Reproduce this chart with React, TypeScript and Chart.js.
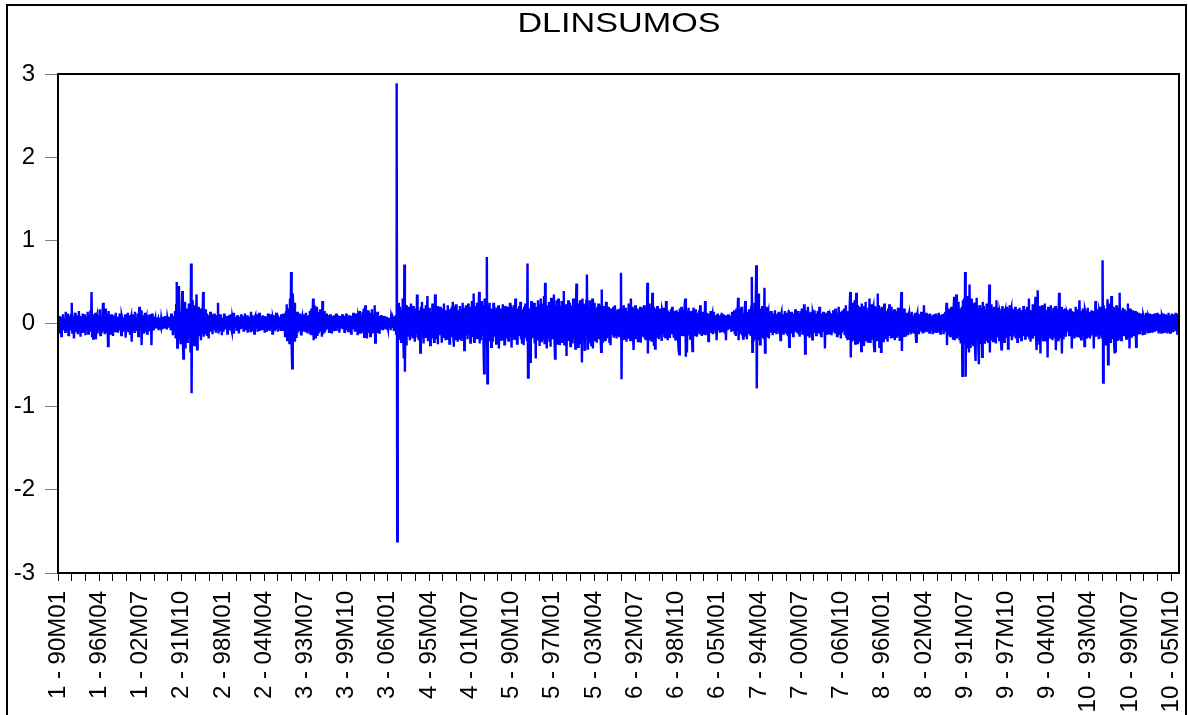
import React, { useEffect, useRef } from "react";
import { Chart, registerables } from "chart.js";

Chart.register(...registerables);

// DLINSUMOS, 10 cross-sections x 204 months (90M01..06M12), values in hundredths
const S1 = [
  4, -6, 9, -12, 3, 8, -15, 6, -3, 11, -8, 2,
  7, -10, 14, -5, -9, 6, 12, -14, 3, 5, -7, 10,
  -4, 25, -11, 2, 8, -18, 6, 13, -6, -9, 4, 10,
  -13, 7, 15, -8, 3, -16, 9, 5, -10, 12, -4, 6,
  -9, 11, -14, 4, 8, -5, 14, -12, 2, 9, -7, 16,
  -10, 38, -15, 7, -18, 11, 5, -8, 13, -19, 6, 9,
  -12, 4, 10, -6, 17, -14, 3, 8, -11, 14, 25, -9,
  6, -13, 18, 4, -10, 12, 7, -27, 15, -5, 9, -12,
  3, 11, -8, 6, -15, 10, -4, 7, -9, 13, -6, 2,
  8, -11, 5, -3, 12, -7, 4, -14, 9, 6, -10, 3,
  7, -5, 11, -17, 4, 9, -6, 13, -9, 2, 10, -12,
  5, 8, -22, 6, 11, -7, 3, -10, 14, -4, 7, -9,
  4, 12, -15, 6, 20, -8, 9, 16, -26, 5, 10, -11,
  8, -6, 13, -9, 4, 7, -12, 10, -3, 6, -8, 11,
  -5, 9, -26, 12, 4, -7, 8, -5, 3, 6, -4, 7,
  -6, 3, 5, -8, 4, 7, -3, -5, 6, 2, -7, 8,
  -4, 5, -6, 9, -3, 4, -7, 6, 2, -5, 8, -3,
];
const S2 = [
  5, -8, 12, -6, 9, -14, 7, 3, -10, 15, -18, 22,
  50, -29, 18, -12, 45, -20, 10, -25, 14, 8, 39, -15,
  -42, 20, -8, 26, -30, 12, 18, -22, 9, -16, 24, -10,
  15, -35, 72, -84, 28, -18, 10, 22, -26, 14, -12, 8,
  35, -31, 16, -9, 20, -14, 11, 18, -20, 7, -11, 13,
  38, -16, 9, -13, 17, -8, 12, -15, 6, 10, -18, 9,
  -6, 14, -10, 7, 11, -13, 5, -8, 12, -6, 9, -11,
  4, 10, -7, 25, -12, 8, -5, 11, -9, 6, -14, 7,
  3, -10, 12, -5, 8, -7, 4, 9, -12, 6, -3, 10,
  -8, 5, 11, -6, -9, 7, 3, -11, 13, -5, 8, -4,
  6, -9, 10, -3, 5, -12, 8, 4, -7, 11, -6, 2,
  9, -5, -10, 7, 12, -8, 4, -6, 10, -11, 5, 8,
  -4, 6, -9, 14, -7, 3, 10, -8, 5, -12, 7, 9,
  -6, 4, 11, -10, 6, -5, 13, -9, 8, -4, 7, -8,
  10, -6, 5, 9, -11, 7, -3, 8, -10, 6, 12, -7,
  4, -9, 7, 11, -5, 8, -12, 6, 3, -8, 10, -6,
  5, 13, -7, 9, -10, 6, 4, -5, 8, -9, 11, -6,
];
const S3 = [
  6, -9, 12, -7, 10, -15, 8, 14, 23, -20, 16, -12,
  18, -25, 30, -14, 62, -28, -54, 36, 20, -18, 25, -22,
  12, -16, 9, 14, -11, 7, -9, 12, -6, 10, -13, 5,
  8, -10, 6, 11, -7, 4, -9, 13, -5, 9, -12, 7,
  10, -8, 15, -12, 6, 18, -14, 9, 30, -20, 22, -11,
  16, -18, 12, 20, -15, 8, -12, 14, -9, 17, -10, 11,
  -16, 27, -13, 9, 15, -11, 6, -8, 12, -7, 10, -5,
  8, -10, 4, 11, -6, 9, -12, 7, 3, -8, 10, -4,
  6, -9, 12, -5, 7, 10, -8, 4, -11, 9, -6, 8,
  -3, 11, -7, 5, 9, -10, 6, -4, 12, -8, 3, 7,
  -9, 5, 10, -6, 8, -12, 4, 9, -7, 13, -5, 6,
  -10, 7, 12, -8, 5, -14, 9, 6, -11, 15, -7, 10,
  -12, 8, 14, -9, 18, -16, 10, 22, -13, 12, -18, 9,
  16, -11, 7, 13, -15, 10, -8, 17, -12, 6, 11, -9,
  22, -23, 12, -10, 8, 14, -7, 5, -11, 9, -6, 4,
  10, -5, 7, -8, 3, 9, -4, 6, -7, 5, 8, -3,
  -6, 4, 7, -5, 3, -8, 6, 2, -4, 7, 5, -9,
];
const S4 = [
  8, -6, 10, -12, 289, -262, 12, -18, 25, -14, 20, 9,
  -22, 16, -10, 30, -15, -42, 71, -58, 18, -25, 22, 12,
  -16, 20, -12, 15, -20, 9, 24, -14, 11, -18, 21, -9,
  14, -22, 10, 18, -13, 35, -17, 12, -20, 16, 8, -35,
  20, -15, 26, -10, 13, -24, 18, 9, -16, 22, -12, 15,
  33, -20, 11, -14, 19, -26, 14, 10, -18, 24, -11, 16,
  -22, 12, 35, -19, 15, -12, 21, -25, 9, 17, -14, 20,
  -10, 13, -23, 18, 11, -16, 24, -13, 8, -20, 16, 12,
  -18, 22, -9, 14, -24, 17, 10, -15, 20, -12, 26, -17,
  -28, 15, 12, -20, 23, -10, 16, -22, 14, 9, -18, 21,
  -13, 17, -21, 11, 25, -16, 13, -32, 19, -11, 22, -14,
  10, -19, 24, -12, 16, 20, -23, 13, -15, 27, -10, 18,
  36, -22, 14, -17, 21, -12, 25, -19, 11, 16, 38, -24,
  12, -20, 27, -14, 18, 22, -26, -60, 30, -15, 20, -25,
  80, -72, 22, -18, 15, 25, -20, 12, -28, 18, 14, -22,
  25, -16, 20, -13, 17, -24, 11, 19, -15, 22, -30, 14,
  18, -21, 12, 16, -19, 23, -14, 10, -25, 17, 21, -12,
];
const S5 = [
  -14, 20, -10, 18, -22, 12, 25, -16, 9, -29, 14, 11,
  -18, 22, -12, 16, 30, -20, 13, -24, 10, 18, -15, 21,
  -11, 26, -19, 14, -23, 12, 17, -26, 20, -13, 24, -17,
  15, -21, 72, -65, 18, -20, 14, -46, 12, 27, -18, 22,
  -15, 19, 25, -24, 16, -42, 20, 13, -19, 28, -14, 23,
  -27, 17, 30, -21, 12, -18, 24, -13, 33, -25, 49, -20,
  15, -30, 22, 18, -16, 26, -22, 14, -28, 31, -15, 20,
  -19, 25, 35, -17, -42, 22, -14, 28, -24, 16, 30, -20,
  18, -26, 21, -13, 27, -22, 15, 19, 39, -25, 17, -18,
  23, -39, 20, -15, 28, -21, 14, 25, -27, 18, -16, 22,
  -24, 30, -18, 15, 26, -30, 19, 48, -22, 16, -28, 24,
  -17, 21, 28, -25, 14, -47, 30, -20, 24, 18, -33, 22,
  -15, 27, 59, -30, 20, -24, 16, 28, -21, 13, -26, 19,
  30, -30, 22, -17, 25, -20, 14, 18, -23, 20, -15, 24,
  -19, 16, 22, -18, -34, 41, -22, 17, -14, 21, 12, -20,
  15, 26, -18, 13, -16, 20, 11, -22, 14, -26, 18, -12,
  16, -14, 20, -17, 12, 22, -15, 10, -18, 14, 17, -13,
];
const S6 = [
  12, -15, 18, -10, 61, -67, 14, -20, 16, 22, -18, 11,
  -14, 19, -22, 15, 10, -17, 24, -12, 18, -20, 30, -15,
  13, 20, -16, -32, 17, -11, 22, -19, 14, -13, 18, -21,
  11, 16, -14, 20, -23, 12, -10, 19, -16, 14, 22, -18,
  13, -20, 17, -12, 49, -36, 20, -15, 24, -19, 13, 18,
  -22, 37, -16, 20, -27, 14, -30, 18, 11, -17, 21, -13,
  15, -19, 12, 18, -14, 10, -21, 16, 13, -11, 19, -15,
  11, -18, 27, -12, 16, -20, 9, 14, -16, 12, -10, 17,
  -13, 20, -11, 15, -17, 8, 13, -19, 10, 16, -12, 14,
  -20, -33, -37, 18, 12, -15, 20, -11, 16, -14, 9, 15,
  24, 30, -40, 12, -35, 16, -13, 19, -10, 14, -18, 11,
  15, -12, -33, 10, 19, -14, 8, 17, -11, 13, -16, 9,
  12, -10, 16, -13, 22, -8, 11, -15, 9, 14, -12, 10,
  -9, 27, -14, 8, 13, -11, 10, -21, 7, 12, -9, 15,
  -10, 8, 11, -13, 6, 14, -8, 10, -12, 7, -20, 9,
  12, -7, 5, 10, -11, 8, -6, 13, -9, 6, 11, -8,
  9, -12, 7, -20, 10, 5, -8, 11, -7, 9, -6, 8,
];
const S7 = [
  8, -10, 14, -7, 12, -9, 16, -13, 10, -15, 18, -8,
  11, 31, -20, 14, -12, 17, -9, 20, -14, 11, -18, 13,
  -10, 15, 27, -16, 12, -19, 9, 14, -13, 17, -11, 10,
  -15, 20, 56, -34, 18, -22, 14, 25, -18, 12, 70, -78,
  22, -16, 36, -20, 15, -25, 12, 18, -14, 21, -17, 13,
  -19, 43, -35, 16, -12, 20, -15, 11, 14, -18, 9, 13,
  -11, 15, -9, 12, -14, 8, 11, -10, 16, -7, 10, -13,
  9, 12, -8, 14, -11, 7, -20, 10, 13, -9, 6, -12,
  11, -8, 15, -10, 7, 13, -12, 9, -14, 16, -28, 10,
  8, -12, 14, -9, 11, -15, 7, 12, -10, 17, -8, 13,
  -11, 9, 15, -13, 10, -16, 12, -8, 14, 18, -12, 10,
  -9, 23, 13, -36, 16, -11, 9, -14, 20, -10, 12, -17,
  11, 14, -12, 8, -19, 13, 10, -11, 16, -9, 7, -14,
  12, -10, 15, -8, 9, 20, -13, 11, -15, 8, 12, -10,
  14, -9, 11, -30, 13, -8, 10, -12, 7, 15, -11, 9,
  -13, 10, 8, -14, 12, -7, 16, -10, 9, -12, 18, -8,
  11, -15, 13, -9, 20, -12, 8, 14, -18, 10, -11, 16,
];
const S8 = [
  12, -9, 18, -14, 10, 22, -16, 13, -20, 15, 11, -18,
  20, 38, -41, 16, -22, 25, -15, 12, -19, 28, -24, 14,
  37, -18, 22, -25, 15, -12, 20, -21, 17, -33, 24, -16,
  13, 21, -27, 18, -14, 26, -20, 15, 11, -23, 19, -17,
  30, -22, 14, -18, 23, -12, 17, 20, -25, -33, 21, -15,
  12, 19, -20, 36, -16, 22, -28, 14, 18, -34, 20, -13,
  16, -21, 12, 24, -17, 13, -19, 15, 11, -22, 18, -14,
  23, -15, 12, -18, 20, -11, 14, -16, 10, 17, -20, 13,
  -12, 15, -17, 11, 19, -14, 9, -21, 13, 16, 38, -33,
  14, -15, 10, 18, -12, 8, -16, 13, -10, 11, -14, 9,
  12, -10, 7, -13, 11, 14, -9, 8, -12, 10, -7, 13,
  -11, -22, 9, 12, -8, 10, -13, 7, 11, -9, 14, -10,
  8, -12, 10, 22, -11, 9, -7, 13, -10, 6, 11, -9,
  7, -11, 12, -8, 10, -6, 9, -13, 8, 11, -9, 6,
  -10, 12, -7, 9, -11, 8, 13, -9, 6, -12, 10, -8,
  11, -7, 9, -13, 12, -10, 14, -8, 25, -26, 15, -11,
  18, -13, 10, -15, 12, 20, -16, 9, -18, 14, 32, -20,
];
const S9 = [
  14, -12, 35, -18, 22, -15, 26, -10, -20, 18, -24, 16,
  20, -63, 28, -22, 30, -25, 62, -64, 24, -30, 33, -20,
  18, -35, 47, -28, 22, -18, 30, -24, 15, -26, 20, 25,
  -30, -45, 24, 31, -20, 18, -28, -49, 22, 16, -25, 19,
  14, -40, 26, -18, 21, -23, 17, 12, -20, 24, -15, 20,
  -22, 15, 47, -35, 18, -14, 23, -19, 12, -21, 16, 20,
  -17, 13, -24, 28, -15, 19, -12, 17, -20, 14, 11, -18,
  -31, 16, 21, -13, 18, -22, 12, 15, -17, 20, -11, 14,
  -30, 18, -14, 22, -12, 16, 19, -20, 13, -16, 11, 17,
  -14, 20, -18, 12, 15, -22, 17, -13, 10, 19, -16, 14,
  -20, 12, 16, -15, 21, -11, 14, -18, 9, 17, -13, 20,
  -16, 11, 30, -19, 14, -22, 16, 12, -17, 23, -14, 18,
  -12, 20, 32, -18, -32, 15, 40, -20, 16, -24, 21, -36,
  18, -15, 22, 12, -20, 17, -14, 24, -19, 13, -22, 16,
  -41, 20, -15, 18, 11, -17, 22, -13, 15, -20, 12, 19,
  -16, 14, 21, -32, 16, -12, 18, -20, 13, 37, -18, 15,
  -14, 20, -36, 17, 12, -19, 15, -11, 18, -16, 10, 14,
];
const S10 = [
  12, -10, 16, -14, 9, 18, -12, 15, -30, 13, -16, 11,
  14, -18, 10, 20, -13, 12, -15, 17, -11, 14, 28, -16,
  12, -19, 15, -10, 18, -14, 11, -27, 16, 13, -17, 12,
  -11, 19, -15, 10, 14, -18, 12, -9, 16, -13, 11, 15,
  -30, 13, -12, 27, -16, 11, 17, -14, 10, -19, 15, 12,
  -13, 20, -18, 14, 76, -71, 22, -17, 15, -25, 18, 12,
  -20, 29, -49, 24, -18, 21, -22, 15, 33, -19, 17, -14,
  20, -24, -36, 18, -35, 22, -15, 19, -21, 14, 16, 37,
  -18, 13, -20, 16, -12, 19, -15, 11, 17, -14, 12, -18,
  15, -10, 24, -16, 13, -30, 18, -12, 14, -17, 11, 16,
  -14, 12, -10, 15, 11, -28, 14, -12, 9, 13, -11, 10,
  -13, 8, 12, -9, 11, -14, 10, 7, -12, 9, -10, 13,
  -8, 11, -12, 9, 7, -10, 12, -9, 10, -7, 11, -11,
  9, -8, 12, -10, 7, 11, -9, 13, -7, 10, -12, 8,
  11, -9, 6, -11, 10, 8, -7, 12, -10, 9, -8, 11,
  -7, 10, -12, 8, 13, -9, 7, -11, 10, -6, 12, -9,
  8, -10, 11, -7, 9, 13, -8, 10, -12, 7, 12, -6,
];

const SECTIONS = [S1, S2, S3, S4, S5, S6, S7, S8, S9, S10];

// Labelled observations (index -> label)
const TICK_INDEX = [
  0, 75, 150, 225, 300, 375, 450, 525, 600, 675, 750, 825, 900, 975,
  1050, 1125, 1200, 1275, 1350, 1425, 1500, 1575, 1650, 1725, 1800, 1875, 1950, 2025,
];
const TICK_LABELS = [
  "1 - 90M01", "1 - 96M04", "1 - 02M07", "2 - 91M10", "2 - 98M01", "2 - 04M04",
  "3 - 93M07", "3 - 99M10", "3 - 06M01", "4 - 95M04", "4 - 01M07", "5 - 90M10",
  "5 - 97M01", "5 - 03M04", "6 - 92M07", "6 - 98M10", "6 - 05M01", "7 - 94M04",
  "7 - 00M07", "7 - 06M10", "8 - 96M01", "8 - 02M04", "9 - 91M07", "9 - 97M10",
  "9 - 04M01", "10 - 93M04", "10 - 99M07", "10 - 05M10",
];
const TITLE = "DLINSUMOS";

const FONT = "'Liberation Sans', Arial, sans-serif";

export default function App() {
  const ref = useRef<HTMLCanvasElement | null>(null);

  useEffect(() => {
    const canvas = ref.current;
    if (!canvas) return;
    const values: number[] = [];
    SECTIONS.forEach((s) => s.forEach((v) => values.push(v / 100)));
    const points = values.map((v, i) => ({ x: i, y: v }));
    const labelMap: Record<number, string> = {};
    TICK_INDEX.forEach((idx, k) => (labelMap[idx] = TICK_LABELS[k]));

    const framePlugin = {
      id: "frames",
      afterDatasetsDraw(chart: any) {
        const { ctx, chartArea } = chart;
        ctx.save();
        ctx.strokeStyle = "#000";
        ctx.lineWidth = 2;
        ctx.strokeRect(chartArea.left, chartArea.top, chartArea.right - chartArea.left, chartArea.bottom - chartArea.top);
        // outer frame
        ctx.beginPath();
        ctx.moveTo(7, 716);
        ctx.lineTo(7, 5);
        ctx.lineTo(1186, 5);
        ctx.lineTo(1186, 716);
        ctx.stroke();
        // title
        ctx.fillStyle = "#000";
        ctx.font = `28px ${FONT}`;
        ctx.textAlign = "center";
        ctx.textBaseline = "alphabetic";
        ctx.translate(619, 32);
        ctx.scale(1.22, 1);
        ctx.fillText(TITLE, 0, 0);
        ctx.restore();
      },
    };

    const chart = new Chart(canvas, {
      type: "line",
      data: {
        datasets: [
          {
            data: points,
            borderColor: "#0000FF",
            borderWidth: 2.4,
            pointRadius: 0,
            tension: 0,
            fill: false,
          },
        ],
      },
      options: {
        animation: false,
        responsive: false,
        maintainAspectRatio: false,
        layout: { padding: { left: 0, top: 74, right: 9, bottom: 0 } },
        plugins: { legend: { display: false }, tooltip: { enabled: false }, title: { display: false } },
        scales: {
          x: {
            type: "linear",
            min: 0,
            max: 2039,
            afterFit(scale: any) {
              scale.height = 142;
              scale.paddingLeft = 0;
              scale.paddingRight = 0;
            },
            border: { display: false },
            grid: { drawOnChartArea: false, drawTicks: true, tickLength: 8, color: "#000", lineWidth: 1 },
            ticks: {
              stepSize: 25,
              autoSkip: false,
              includeBounds: false,
              maxTicksLimit: 200,
              minRotation: 90,
              maxRotation: 90,
              padding: 10,
              color: "#000",
              font: { family: FONT, size: 24 },
              callback: (v: any) => (labelMap[v as number] !== undefined ? labelMap[v as number] : ""),
            },
          },
          y: {
            min: -3,
            max: 3,
            afterFit(scale: any) {
              scale.width = 58;
            },
            border: { display: false },
            grid: { drawOnChartArea: false, drawTicks: true, tickLength: 13, color: "#808080", lineWidth: 1 },
            ticks: {
              stepSize: 1,
              padding: 10,
              color: "#000",
              font: { family: FONT, size: 24 },
            },
          },
        },
      },
      plugins: [framePlugin],
    });
    return () => chart.destroy();
  }, []);

  return (
    <div style={{ position: "absolute", left: 0, top: 0, width: 1188, height: 715, background: "#fff" }}>
      <canvas ref={ref} width={1188} height={715} style={{ display: "block", width: 1188, height: 715 }} />
    </div>
  );
}
